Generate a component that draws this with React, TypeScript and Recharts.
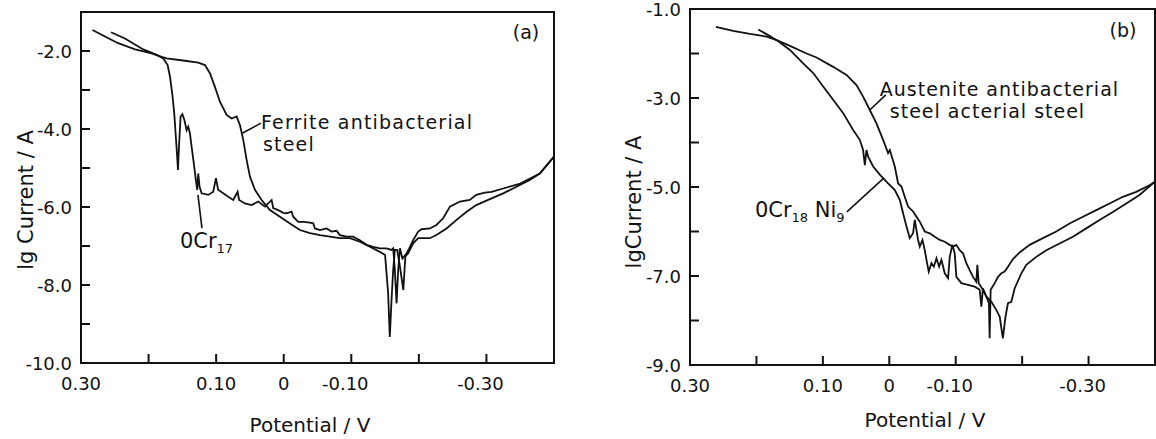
import React from 'react';
import {
  LineChart,
  Line,
  XAxis,
  YAxis,
  ReferenceArea,
  ReferenceDot,
  ReferenceLine,
} from 'recharts';

const FONT = '"DejaVu Sans", Verdana, sans-serif';
const INK = '#111';

type Pt = [number, number]; // [potential / V, lg current / A]

// ---- panel (a): ferritic steels ----
const ferriteSteel: Pt[] = [
  [0.283, -1.46], [0.2645, -1.63], [0.245, -1.8], [0.22, -1.96], [0.1954, -2.06],
  [0.1807, -2.15], [0.1733, -2.19], [0.1462, -2.25], [0.1265, -2.3], [0.1166, -2.36],
  [0.1092, -2.57], [0.1018, -2.92], [0.0944, -3.3], [0.0845, -3.64], [0.0771, -3.73],
  [0.0697, -3.68], [0.0648, -3.9], [0.0599, -4.28], [0.0549, -4.79], [0.05, -5.22],
  [0.0426, -5.56], [0.0327, -5.82], [0.0204, -6.08], [0.0056, -6.25], [-0.0092, -6.42],
  [-0.024, -6.59], [-0.0388, -6.67], [-0.0536, -6.72], [-0.0683, -6.76], [-0.0831, -6.8],
  [-0.098, -6.8], [-0.1127, -6.89], [-0.1275, -7.02], [-0.1423, -7.15], [-0.15, -7.23],
  [-0.1545, -8.2], [-0.157, -9.33], [-0.1595, -8.4], [-0.162, -7.62], [-0.1645, -7.1],
  [-0.168, -7.1], [-0.172, -7.53], [-0.177, -8.13], [-0.18, -7.27], [-0.184, -7.19],
  [-0.1916, -6.93], [-0.199, -6.8], [-0.2163, -6.8], [-0.226, -6.72], [-0.241, -6.55],
  [-0.2558, -6.33], [-0.2706, -6.12], [-0.285, -5.95], [-0.305, -5.8], [-0.3247, -5.65],
  [-0.3445, -5.48], [-0.3642, -5.31], [-0.379, -5.14], [-0.4, -4.71],
];

const cr17Steel: Pt[] = [
  [0.2556, -1.52], [0.235, -1.68], [0.2078, -1.96], [0.188, -2.1], [0.1782, -2.19],
  [0.1718, -2.36], [0.1683, -2.66], [0.165, -3.09], [0.162, -3.6], [0.16, -4.11],
  [0.158, -4.62], [0.1565, -5.05], [0.155, -4.45], [0.1526, -3.68], [0.15, -3.62],
  [0.147, -3.77], [0.1437, -4.03], [0.1413, -3.94], [0.1388, -4.11], [0.1363, -4.45],
  [0.1324, -4.97], [0.13, -5.31], [0.128, -5.56], [0.1265, -5.14], [0.1245, -5.48],
  [0.1215, -5.65], [0.1117, -5.69], [0.1043, -5.61], [0.1003, -5.26], [0.097, -5.56],
  [0.0895, -5.65], [0.082, -5.74], [0.0747, -5.82], [0.0682, -5.61], [0.066, -5.82],
  [0.0574, -5.91], [0.0475, -5.95], [0.0377, -5.86], [0.0278, -5.99], [0.0179, -5.82],
  [0.0155, -6.03], [0.0081, -6.08], [0.0007, -6.15], [-0.0043, -6.16], [-0.0117, -6.12],
  [-0.014, -6.25], [-0.0215, -6.38], [-0.0289, -6.38], [-0.0388, -6.4], [-0.0437, -6.42],
  [-0.0462, -6.55], [-0.0536, -6.59], [-0.0635, -6.55], [-0.0709, -6.63], [-0.0783, -6.61],
  [-0.0831, -6.72], [-0.093, -6.76], [-0.1028, -6.76], [-0.1127, -6.85], [-0.1226, -6.97],
  [-0.1324, -7.02], [-0.1423, -7.06], [-0.152, -7.06], [-0.1595, -7.1], [-0.162, -7.06],
  [-0.1645, -7.62], [-0.167, -8.47], [-0.1694, -7.62], [-0.172, -7.06], [-0.1757, -7.32],
  [-0.1818, -7.19], [-0.1857, -7.06], [-0.1916, -6.85], [-0.199, -6.63], [-0.204, -6.57],
  [-0.2163, -6.55], [-0.226, -6.46], [-0.236, -6.29], [-0.246, -5.99], [-0.2607, -5.86],
  [-0.2754, -5.82], [-0.285, -5.69], [-0.2976, -5.63], [-0.3075, -5.61], [-0.33, -5.5],
  [-0.35, -5.4], [-0.379, -5.14], [-0.4, -4.71],
];

// ---- panel (b): austenitic steels ----
const austeniteSteel: Pt[] = [
  [0.1972, -1.46], [0.1797, -1.61], [0.1696, -1.7], [0.1496, -1.83], [0.1245, -2.0],
  [0.1095, -2.09], [0.0845, -2.3], [0.0644, -2.48], [0.0494, -2.71], [0.0394, -2.97],
  [0.0293, -3.27], [0.0193, -3.57], [0.0093, -3.94], [0.0018, -4.24], [-0.0008, -4.17],
  [-0.0083, -4.54], [-0.0133, -4.92], [-0.0183, -4.99], [-0.0233, -5.22], [-0.0283, -5.44],
  [-0.0358, -5.55], [-0.0409, -5.67], [-0.0459, -5.78], [-0.0534, -6.0], [-0.0609, -6.04],
  [-0.0684, -6.12], [-0.0759, -6.19], [-0.0835, -6.23], [-0.091, -6.3], [-0.096, -6.34],
  [-0.101, -6.3], [-0.106, -6.42], [-0.111, -6.49], [-0.116, -6.71], [-0.121, -6.87],
  [-0.126, -7.02], [-0.131, -7.13], [-0.1326, -6.75], [-0.1346, -7.16], [-0.141, -7.31],
  [-0.146, -7.46], [-0.1537, -7.58], [-0.161, -7.76], [-0.1662, -7.91], [-0.171, -8.4],
  [-0.175, -7.91], [-0.1787, -7.61], [-0.1837, -7.58], [-0.1887, -7.28], [-0.1988, -6.94],
  [-0.2063, -6.75], [-0.2213, -6.57], [-0.2364, -6.42], [-0.2564, -6.27], [-0.2764, -6.12],
  [-0.2965, -5.93], [-0.3165, -5.74], [-0.3366, -5.56], [-0.3567, -5.37], [-0.3767, -5.18],
  [-0.4, -4.88],
];

const cr18ni9Steel: Pt[] = [
  [0.261, -1.4], [0.2349, -1.49], [0.2098, -1.56], [0.1847, -1.62], [0.1696, -1.7],
  [0.1496, -1.92], [0.1296, -2.22], [0.1145, -2.44], [0.0995, -2.74], [0.0845, -3.04],
  [0.0694, -3.34], [0.0544, -3.72], [0.0444, -3.94], [0.0394, -4.17], [0.0368, -4.51],
  [0.0343, -4.17], [0.0318, -4.32], [0.0243, -4.54], [0.0143, -4.72], [0.0018, -4.92],
  [-0.0083, -5.07], [-0.0158, -5.29], [-0.0208, -5.59], [-0.0259, -5.89], [-0.0308, -6.15],
  [-0.0358, -6.04], [-0.0384, -5.74], [-0.0409, -5.97], [-0.0434, -6.19], [-0.0459, -6.34],
  [-0.05, -6.19], [-0.0534, -6.42], [-0.0569, -6.71], [-0.0594, -6.9], [-0.0635, -6.71],
  [-0.067, -6.79], [-0.071, -6.6], [-0.075, -6.79], [-0.0785, -6.64], [-0.0835, -6.94],
  [-0.0885, -7.05], [-0.091, -6.57], [-0.095, -6.3], [-0.0985, -6.49], [-0.101, -7.02],
  [-0.1085, -7.16], [-0.1185, -7.2], [-0.1286, -7.24], [-0.1361, -7.31], [-0.1386, -7.69],
  [-0.141, -7.28], [-0.146, -7.46], [-0.15, -7.61], [-0.1511, -8.4], [-0.1526, -7.31],
  [-0.1587, -7.16], [-0.1637, -7.02], [-0.1687, -6.94], [-0.1737, -6.9], [-0.1787, -6.79],
  [-0.1862, -6.62], [-0.1962, -6.47], [-0.2113, -6.3], [-0.2313, -6.15], [-0.2514, -6.0],
  [-0.2714, -5.82], [-0.2915, -5.67], [-0.3116, -5.52], [-0.3316, -5.37], [-0.3516, -5.22],
  [-0.3717, -5.11], [-0.3917, -4.96], [-0.4, -4.88],
];

// ---- ticks ----
const potentialTicks = [0.3, 0.2, 0.1, 0, -0.1, -0.2, -0.3];
const potentialLabels = ['0.30', '', '0.10', '0', '-0.10', '', '-0.30'];
const currentTicksA = [-1, -2, -3, -4, -5, -6, -7, -8, -9, -10];
const currentLabelsA = ['', '-2.0', '', '-4.0', '', '-6.0', '', '-8.0', '', '-10.0'];
const currentTicksB = [-1, -2, -3, -4, -5, -6, -7, -8, -9];
const currentLabelsB = ['-1.0', '', '-3.0', '', '-5.0', '', '-7.0', '', '-9.0'];

// ---- annotations: text runs (sub = subscript), anchored at baseline start ----
type Run = { t: string; sub?: boolean };
type Note = { at: Pt; runs: Run[]; size?: number; spacing?: number };

const notesA: Note[] = [
  { at: [-0.339, -1.69], runs: [{ t: '(a)' }], size: 19 },
  { at: [0.0337, -4.0], runs: [{ t: 'Ferrite antibacterial' }], size: 19, spacing: 1.2 },
  { at: [0.0308, -4.56], runs: [{ t: 'steel' }], size: 19, spacing: 1.2 },
  { at: [0.1536, -7.05], runs: [{ t: '0Cr' }, { t: '17', sub: true }] },
];
const leadersA: [Pt, Pt][] = [
  [[0.0614, -4.11], [0.0337, -3.85]],
  [[0.1269, -5.69], [0.121, -6.54]],
];

const notesB: Note[] = [
  { at: [-0.3316, -1.63], runs: [{ t: '(b)' }], size: 19 },
  { at: [0.0143, -2.955], runs: [{ t: 'Austenite antibacterial' }], size: 19, spacing: 1 },
  { at: [-0.0008, -3.45], runs: [{ t: 'steel acterial steel' }], size: 19, spacing: 1 },
  {
    at: [0.2023, -5.67],
    runs: [{ t: '0Cr' }, { t: '18', sub: true }, { t: ' Ni' }, { t: '9', sub: true }],
  },
];
const leadersB: [Pt, Pt][] = [
  [[0.0293, -3.27], [0.0053, -2.93]],
  [[0.0639, -5.56], [0.0083, -4.8]],
];

const toRows = (pts: Pt[]) => pts.map(([e, i]) => ({ e, i }));

const XTick = (props: any) => {
  const { x, y, payload, ticks, labels } = props;
  const text: string = labels[ticks.indexOf(payload.value)] || '';
  return (
    <g>
      <line x1={x} y1={y} x2={x} y2={y - 9} stroke={INK} strokeWidth={2} />
      {text && (
        <text
          x={text.startsWith('-') ? x - 6 : x}
          y={y + 27}
          textAnchor="middle"
          fontFamily={FONT}
          fontSize={18}
          fill={INK}
        >
          {text}
        </text>
      )}
    </g>
  );
};

const YTick = (props: any) => {
  const { x, y, payload, ticks, labels } = props;
  const text: string = labels[ticks.indexOf(payload.value)] || '';
  return (
    <g>
      <line x1={x} y1={y} x2={x + 9} y2={y} stroke={INK} strokeWidth={2} />
      {text && (
        <text x={x - 9} y={y + 6.5} textAnchor="end" fontFamily={FONT} fontSize={18} fill={INK}>
          {text}
        </text>
      )}
    </g>
  );
};

const noteContent = (runs: Run[], size: number, spacing: number) => (props: any) => {
  const vb = props.viewBox || {};
  const x = (vb.x ?? 0) + (vb.width ?? 0) / 2;
  const y = (vb.y ?? 0) + (vb.height ?? 0) / 2;
  let down = false;
  return (
    <text x={x} y={y} fontFamily={FONT} fontSize={size} letterSpacing={spacing} fill={INK}>
      {runs.map((r, k) => {
        const sub = !!r.sub;
        const dy = sub && !down ? 5 : !sub && down ? -5 : 0;
        down = sub;
        return (
          <tspan key={k} dy={dy} fontSize={sub ? 13 : size}>
            {r.t}
          </tspan>
        );
      })}
    </text>
  );
};

interface PanelProps {
  left: number;
  width: number;
  top: number;
  yWidth: number;
  xHeight: number;
  right: number;
  yMin: number;
  curves: Pt[][];
  yTicks: number[];
  yLabels: string[];
  yTitle: string;
  yTitleDx: number;
  yTitleDy: number;
  xTitleDx: number;
  xTitleOffset: number;
  notes: Note[];
  leaders: [Pt, Pt][];
}

const Panel: React.FC<PanelProps> = (p) => (
  <div style={{ position: 'absolute', left: p.left, top: 0 }}>
    <LineChart
      width={p.width}
      height={439}
      margin={{ top: p.top, right: p.right, bottom: 0, left: 0 }}
    >
      <XAxis
        type="number"
        dataKey="e"
        domain={[-0.4, 0.3]}
        reversed
        allowDataOverflow
        ticks={potentialTicks}
        interval={0}
        height={p.xHeight}
        axisLine={false}
        tickLine={false}
        tickSize={0}
        tickMargin={0}
        tick={<XTick ticks={potentialTicks} labels={potentialLabels} />}
        label={{
          value: 'Potential / V',
          position: 'insideBottom',
          offset: p.xTitleOffset,
          dx: p.xTitleDx,
          fontSize: 20,
          fontFamily: FONT,
          fill: INK,
        }}
      />
      <YAxis
        type="number"
        domain={[p.yMin, -1]}
        allowDataOverflow
        ticks={p.yTicks}
        interval={0}
        width={p.yWidth}
        axisLine={false}
        tickLine={false}
        tickSize={0}
        tickMargin={0}
        tick={<YTick ticks={p.yTicks} labels={p.yLabels} />}
        label={{
          value: p.yTitle,
          angle: -90,
          position: 'center',
          dx: p.yTitleDx,
          dy: p.yTitleDy,
          fontSize: 21,
          fontFamily: FONT,
          fill: INK,
        }}
      />
      <ReferenceArea
        x1={0.3}
        x2={-0.4}
        y1={p.yMin}
        y2={-1}
        fill="none"
        stroke={INK}
        strokeWidth={2}
      />
      {p.curves.map((c, k) => (
        <Line
          key={k}
          data={toRows(c)}
          dataKey="i"
          type="linear"
          stroke={INK}
          strokeWidth={1.8}
          dot={false}
          activeDot={false}
          isAnimationActive={false}
        />
      ))}
      {p.leaders.map(([a, b], k) => (
        <ReferenceLine
          key={`l${k}`}
          segment={[
            { x: a[0], y: a[1] },
            { x: b[0], y: b[1] },
          ]}
          stroke={INK}
          strokeWidth={1.6}
        />
      ))}
      {p.notes.map((n, k) => (
        <ReferenceDot
          key={`n${k}`}
          x={n.at[0]}
          y={n.at[1]}
          r={0}
          fill="none"
          stroke="none"
          label={noteContent(n.runs, n.size ?? 21, n.spacing ?? 0)}
        />
      ))}
    </LineChart>
  </div>
);

export default function App() {
  return (
    <div style={{ position: 'absolute', left: 0, top: 0, width: 1156, height: 439, background: '#fff' }}>
      <Panel
        left={0}
        width={600}
        top={12}
        right={46}
        yWidth={81}
        xHeight={76}
        yMin={-10}
        curves={[ferriteSteel, cr17Steel]}
        yTicks={currentTicksA}
        yLabels={currentLabelsA}
        yTitle="lg Current / A"
        yTitleDx={-14.5}
        yTitleDy={12.5}
        xTitleDx={-7.5}
        xTitleOffset={7}
        notes={notesA}
        leaders={leadersA}
      />
      <Panel
        left={580}
        width={576}
        top={9}
        right={1}
        yWidth={110}
        xHeight={74}
        yMin={-9}
        curves={[austeniteSteel, cr18ni9Steel]}
        yTicks={currentTicksB}
        yLabels={currentLabelsB}
        yTitle="lgCurrent / A"
        yTitleDx={-1}
        yTitleDy={15}
        xTitleDx={2.5}
        xTitleOffset={12}
        notes={notesB}
        leaders={leadersB}
      />
    </div>
  );
}
